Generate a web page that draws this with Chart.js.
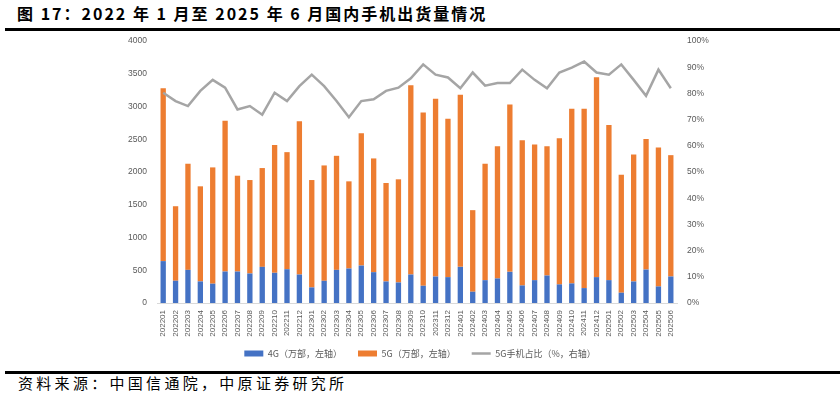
<!DOCTYPE html>
<html>
<head>
<meta charset="utf-8">
<script src="https://cdn.jsdelivr.net/npm/chart.js@4.4.1/dist/chart.umd.min.js"></script>
<style>
  html, body { margin: 0; padding: 0; background: #fff; width: 840px; height: 399px; overflow: hidden; }
  #title { position: absolute; left: 17px; top: 1px; font-family: "Noto Sans CJK SC", sans-serif; font-weight: bold; font-size: 16px; letter-spacing: 2px; color: #000; white-space: nowrap; }
  #topline { position: absolute; left: 5px; right: 0; top: 28px; height: 3px; background: #000; }
  #botline { position: absolute; left: 5px; right: 0; top: 371px; height: 3px; background: #000; }
  #source { position: absolute; left: 18px; top: 372px; font-family: "Noto Sans CJK SC", sans-serif; font-size: 15px; letter-spacing: 3.3px; color: #000; white-space: nowrap; }
  #wrap { position: absolute; left: 0; top: 26px; width: 840px; height: 343px; }
</style>
</head>
<body>
<div id="title">图 17：2022 年 1 月至 2025 年 6 月国内手机出货量情况</div>
<div id="topline"></div>
<div id="wrap"><canvas id="c"></canvas></div>
<div id="botline"></div>
<div id="source">资料来源：中国信通院，中原证券研究所</div>
<script>
const months = ["202201","202202","202203","202204","202205","202206","202207","202208","202209","202210","202211","202212",
  "202301","202302","202303","202304","202305","202306","202307","202308","202309","202310","202311","202312",
  "202401","202402","202403","202404","202405","202406","202407","202408","202409","202410","202411","202412",
  "202501","202502","202503","202504","202505","202506"];
// 4G shipments (10k units)
const shipments4G = [640,340,506,330,295,481,481,451,552,461,516,435,
  238,339,506,527,572,471,329,314,435,263,405,395,
  552,172,349,375,476,268,349,420,284,299,228,395,
  349,157,329,511,253,405];
// 5G shipments (10k units)
const shipments5G = [2640,1138,1621,1452,1776,2304,1463,1427,1509,1954,1788,2340,
  1640,1762,1742,1331,2020,1737,1504,1575,2892,2648,2714,2420,
  2628,1246,1778,2020,2557,2218,2071,1975,2232,2668,2739,3053,
  2370,1802,1939,1995,2122,1853];
// 5G share (%)
const share5G = [80.3,77.1,75.2,81.0,85.2,82.2,73.9,75.2,71.9,80.3,77.1,82.8,
  87.2,82.8,77.1,70.9,77.1,77.8,81.0,82.2,85.8,91.1,87.2,86.1,
  82.0,88.0,83.0,84.0,84.0,89.1,85.2,82.0,88.0,89.9,92.2,88.0,
  87.2,91.1,85.2,79.1,89.1,82.0];
const legendLabels = ["4G（万部，左轴）","5G（万部，左轴）","5G手机占比（%，右轴）"];

const tickColor = "#595959";
const tickFont = { family: "'Liberation Sans', Arial, sans-serif", size: 8.5 };

new Chart(document.getElementById("c"), {
  data: {
    labels: months,
    datasets: [
      { type: "bar", label: legendLabels[0], data: shipments4G, backgroundColor: "#4472C4", yAxisID: "y", stack: "s",
        categoryPercentage: 1, barPercentage: 0.43, pointStyle: "rect", order: 2 },
      { type: "bar", label: legendLabels[1], data: shipments5G, backgroundColor: "#ED7D31", yAxisID: "y", stack: "s",
        categoryPercentage: 1, barPercentage: 0.43, pointStyle: "rect", order: 2 },
      { type: "line", label: legendLabels[2], data: share5G, borderColor: "#A5A5A5", backgroundColor: "#A5A5A5", borderWidth: 2.5,
        pointRadius: 0, pointStyle: "line", yAxisID: "y1", tension: 0, order: 1 }
    ]
  },
  options: {
    responsive: true,
    maintainAspectRatio: false,
    animation: false,
    layout: { padding: { top: 0, left: 0, right: 0, bottom: 1 } },
    plugins: {
      tooltip: { enabled: false },
      legend: {
        position: "bottom",
        labels: {
          usePointStyle: true,
          pointStyleWidth: 19,
          boxHeight: 6,
          padding: 16,
          color: tickColor,
          font: { family: "'Noto Sans CJK SC', sans-serif", size: 9 },
          sort: (a, b) => a.datasetIndex - b.datasetIndex
        }
      }
    },
    scales: {
      x: {
        stacked: true,
        grid: { display: false, drawTicks: false },
        border: { display: true, color: "#D9D9D9", width: 1 },
        ticks: { color: tickColor, font: { family: "'Liberation Sans', Arial, sans-serif", size: 8 }, minRotation: 90, maxRotation: 90, autoSkip: false, padding: 7 },
        afterFit: s => { s.height = 30; s._computeLabelArea = () => null; }
      },
      y: {
        stacked: true, position: "left", min: 0, max: 4000,
        grid: { display: false, drawTicks: false },
        border: { display: false },
        ticks: { stepSize: 500, color: tickColor, font: tickFont, padding: 10, callback: v => String(v) },
        afterFit: s => { s.width = 157; }
      },
      y1: {
        position: "right", min: 0, max: 100,
        grid: { display: false, drawTicks: false },
        border: { display: false },
        ticks: { stepSize: 10, color: tickColor, font: tickFont, padding: 10, callback: v => v + "%" },
        afterFit: s => { s.width = 163; }
      }
    }
  }
});
</script>
</body>
</html>
